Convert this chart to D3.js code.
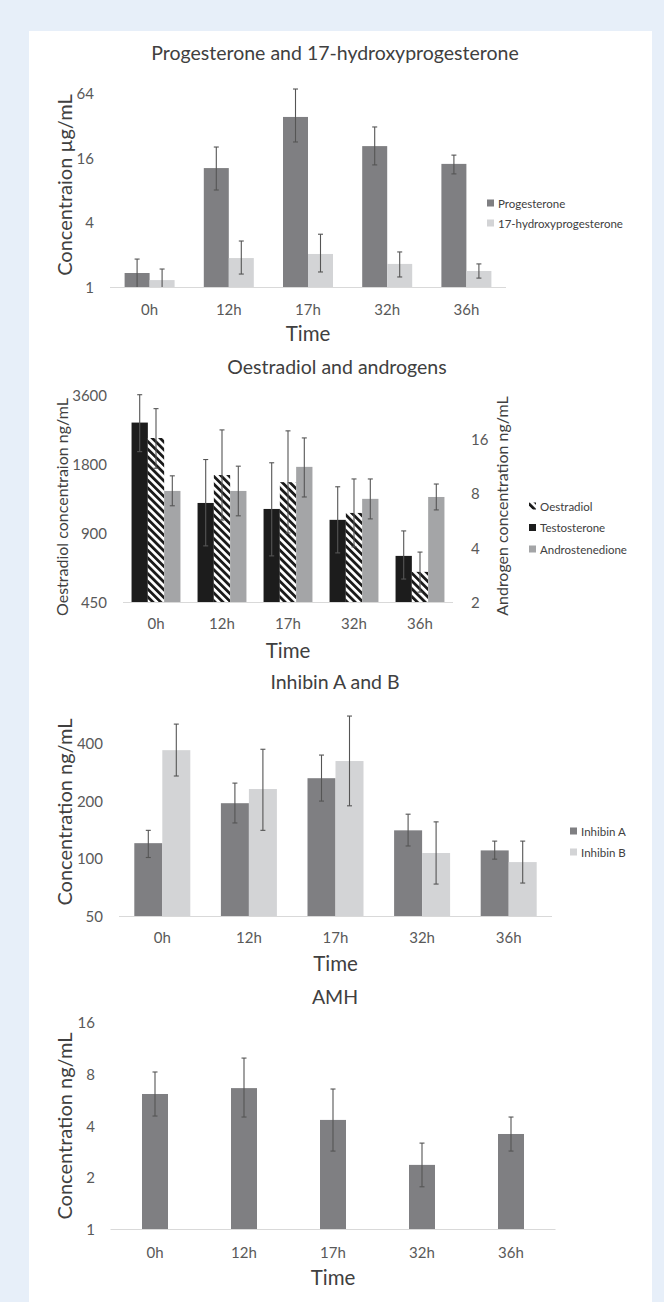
<!DOCTYPE html>
<html>
<head>
<meta charset="utf-8">
<style>
    body { margin: 0; background: #e7eff9; }
    svg { display: block; font-family: Lato, "Open Sans", sans-serif; }
</style>
</head>
<body>
<svg id="chart" width="664" height="1302"></svg>
<script src="https://d3js.org/d3.v7.min.js"></script>
<script>
    // ---- data ----
    const times = ["0h", "12h", "17h", "32h", "36h"];

    const progesterone = [1.35, 12.8, 38.3, 20.5, 14.0];
    const progesteroneLow = [0.9, 8.0, 22.4, 13.7, 11.3];
    const progesteroneHigh = [1.82, 20.1, 69.7, 30.9, 16.9];
    const ohp = [1.16, 1.86, 2.03, 1.64, 1.41];
    const ohpLow = [0.85, 1.32, 1.38, 1.24, 1.21];
    const ohpHigh = [1.47, 2.68, 3.1, 2.12, 1.64];
    const ticks1 = [1, 4, 16, 64];

    const testosterone = [19.7, 7.07, 6.55, 5.7, 3.6];
    const testosteroneLow = [13.6, 4.09, 3.6, 3.74, 2.68];
    const testosteroneHigh = [28.1, 12.3, 11.8, 8.69, 4.95];
    const oestradiol = [2337, 1611, 1500, 1101, 609];
    const oestradiolLow = [1725, 1025, 900, 783, 497];
    const oestradiolHigh = [3139, 2535, 2511, 1549, 743];
    const androstenedione = [8.24, 8.24, 11.2, 7.45, 7.63];
    const androstenedioneLow = [6.82, 6.0, 7.63, 5.77, 6.47];
    const androstenedioneHigh = [9.99, 11.3, 16.2, 9.6, 9.0];
    const ticks2Left = [450, 900, 1800, 3600];
    const ticks2Right = [2, 4, 8, 16];

    const inhibinA = [120, 194, 262, 140, 110];
    const inhibinALow = [101, 153, 199, 116, 99];
    const inhibinAHigh = [140, 247, 346, 170, 123];
    const inhibinB = [367, 230, 322, 106.6, 95.6];
    const inhibinBLow = [269, 140, 188, 73.4, 74.3];
    const inhibinBHigh = [502, 371, 553, 155, 123];
    const ticks3 = [50, 100, 200, 400];

    const amh = [6.1, 6.6, 4.31, 2.36, 3.57];
    const amhLow = [4.54, 4.48, 2.84, 1.76, 2.84];
    const amhHigh = [8.19, 9.87, 6.52, 3.16, 4.48];
    const ticks4 = [1, 2, 4, 8, 16];

    // ---- drawing ----
    const svg = d3.select("#chart");
    svg.append("rect").attr("x", 29).attr("y", 31).attr("width", 623).attr("height", 1271).attr("fill", "#fff");

    let defs = svg.append("defs");
    defs.append("pattern")
        .attr("id", "hatch")
        .attr("patternUnits", "userSpaceOnUse")
        .attr("width", 5.5).attr("height", 5.5)
        .attr("patternTransform", "rotate(-45)")
        .call(p => {
            p.append("rect").attr("width", 5.5).attr("height", 5.5).attr("fill", "#fff");
            p.append("rect").attr("width", 2.8).attr("height", 5.5).attr("fill", "#1a1a1a");
        });

    const titleColor = "#404040";
    const tickColor = "#595959";

    function text(x, y, str, size, anchor, color) {
        return svg.append("text")
            .attr("x", x).attr("y", y)
            .attr("dominant-baseline", "central")
            .attr("text-anchor", anchor || "middle")
            .attr("font-size", size)
            .attr("fill", color || titleColor)
            .text(str);
    }

    function vLabel(x, y, str, size) {
        svg.append("text")
            .attr("transform", `translate(${x},${y}) rotate(-90)`)
            .attr("dominant-baseline", "central")
            .attr("text-anchor", "middle")
            .attr("font-size", size)
            .attr("fill", titleColor)
            .text(str);
    }

    function yTicks(scale, ticks, x, anchor) {
        svg.append("g").selectAll("text").data(ticks).enter()
            .append("text")
            .attr("x", x)
            .attr("y", d => scale(d))
            .attr("dominant-baseline", "central")
            .attr("text-anchor", anchor)
            .attr("font-size", 15)
            .attr("fill", tickColor)
            .text(d => d);
    }

    // series: {values, low, high, fill, y}
    function bars(x, series, barWidth, baseY) {
        series.forEach((s, i) => {
            let off = x.bandwidth() / 2 - series.length * barWidth / 2 + i * barWidth;
            let g = svg.append("g");
            g.selectAll("rect").data(times).enter()
                .append("rect")
                .attr("x", t => x(t) + off)
                .attr("width", barWidth)
                .attr("y", (t, j) => s.y(s.values[j]))
                .attr("height", (t, j) => baseY - s.y(s.values[j]))
                .attr("fill", s.fill);
            let err = svg.append("g").attr("stroke", "#555").attr("stroke-width", 1.1);
            times.forEach((t, j) => {
                let cx = x(t) + off + barWidth / 2;
                let top = s.y(s.high[j]);
                let bottom = Math.min(baseY, s.y(s.low[j]));
                err.append("line").attr("x1", cx).attr("x2", cx).attr("y1", top).attr("y2", bottom);
                err.append("line").attr("x1", cx - 2.5).attr("x2", cx + 2.5).attr("y1", top).attr("y2", top);
                if (s.y(s.low[j]) <= baseY)
                    err.append("line").attr("x1", cx - 2.5).attr("x2", cx + 2.5).attr("y1", bottom).attr("y2", bottom);
            });
        });
    }

    function xAxis(x, baseY, labelY, timeY) {
        svg.append("line")
            .attr("x1", x.range()[0]).attr("x2", x.range()[1])
            .attr("y1", baseY + 0.5).attr("y2", baseY + 0.5)
            .attr("stroke", "#d9d9d9");
        svg.append("g").selectAll("text").data(times).enter()
            .append("text")
            .attr("x", t => x(t) + x.bandwidth() / 2)
            .attr("y", labelY)
            .attr("dominant-baseline", "central")
            .attr("text-anchor", "middle")
            .attr("font-size", 15)
            .attr("fill", tickColor)
            .text(t => t);
        text((x.range()[0] + x.range()[1]) / 2, timeY, "Time", 20.5);
    }

    function legend(x, y0, step, items) {
        items.forEach((it, i) => {
            let y = y0 + i * step;
            svg.append("rect").attr("x", x).attr("y", y - 3.5).attr("width", 7).attr("height", 7).attr("fill", it.fill);
            text(x + 11, y, it.name, 11.5, "start", titleColor);
        });
    }

    // Panel 1
    {
        let x = d3.scaleBand().domain(times).range([110, 506]);
        let y = d3.scaleLog().base(2).domain([1, 64]).range([287, 93]);
        text(335, 52, "Progesterone and 17-hydroxyprogesterone", 19.5);
        vLabel(63.5, 185, "Concentraion µg/mL", 20);
        yTicks(y, ticks1, 94, "end");
        bars(x, [
            { values: progesterone, low: progesteroneLow, high: progesteroneHigh, fill: "#7f7f82", y: y },
            { values: ohp, low: ohpLow, high: ohpHigh, fill: "#d3d4d6", y: y }
        ], 25, 287);
        xAxis(x, 287, 309, 333);
        legend(487, 203, 20, [
            { name: "Progesterone", fill: "#7f7f82" },
            { name: "17-hydroxyprogesterone", fill: "#d3d4d6" }
        ]);
    }

    // Panel 2
    {
        let x = d3.scaleBand().domain(times).range([123, 453]);
        let yL = d3.scaleLog().base(2).domain([450, 3600]).range([602, 395]);
        let yR = d3.scaleLog().base(2).domain([2, 28]).range([602, 395]);
        text(337, 366, "Oestradiol and androgens", 19.5);
        vLabel(61, 507, "Oestradiol concentraion ng/mL", 16);
        vLabel(501, 506, "Androgen concentration ng/mL", 16);
        yTicks(yL, ticks2Left, 107, "end");
        yTicks(yR, ticks2Right, 471, "start");
        bars(x, [
            { values: testosterone, low: testosteroneLow, high: testosteroneHigh, fill: "#1c1c1c", y: yR },
            { values: oestradiol, low: oestradiolLow, high: oestradiolHigh, fill: "url(#hatch)", y: yL },
            { values: androstenedione, low: androstenedioneLow, high: androstenedioneHigh, fill: "#a4a5a7", y: yR }
        ], 16.3, 602);
        xAxis(x, 602, 623, 650);
        legend(529, 506, 21.5, [
            { name: "Oestradiol", fill: "url(#hatch)" },
            { name: "Testosterone", fill: "#1c1c1c" },
            { name: "Androstenedione", fill: "#a4a5a7" }
        ]);
    }

    // Panel 3
    {
        let x = d3.scaleBand().domain(times).range([119, 552]);
        let y = d3.scaleLog().base(2).domain([50, 400]).range([916, 743]);
        text(335, 681, "Inhibin A and B", 19.5);
        vLabel(63.5, 812, "Concentration ng/mL", 20);
        yTicks(y, ticks3, 103, "end");
        bars(x, [
            { values: inhibinA, low: inhibinALow, high: inhibinAHigh, fill: "#7f7f82", y: y },
            { values: inhibinB, low: inhibinBLow, high: inhibinBHigh, fill: "#d3d4d6", y: y }
        ], 28, 916);
        xAxis(x, 916, 937, 963);
        legend(570, 831, 21, [
            { name: "Inhibin A", fill: "#7f7f82" },
            { name: "Inhibin B", fill: "#d3d4d6" }
        ]);
    }

    // Panel 4
    {
        let x = d3.scaleBand().domain(times).range([110.5, 555.5]);
        let y = d3.scaleLog().base(2).domain([1, 16]).range([1229, 1022]);
        text(335, 996, "AMH", 19.5);
        vLabel(63.5, 1126, "Concentration ng/mL", 20);
        yTicks(y, ticks4, 95, "end");
        bars(x, [
            { values: amh, low: amhLow, high: amhHigh, fill: "#7f7f82", y: y }
        ], 26, 1229);
        xAxis(x, 1229, 1252, 1277);
    }
</script>
</body>
</html>
